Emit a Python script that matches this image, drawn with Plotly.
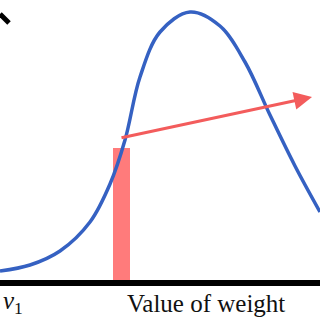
import plotly.graph_objects as go

# Curve (x position, height above the axis)
curve_x = [0, 30, 60, 90, 110, 125, 140, 160, 190, 220, 245, 270, 295, 320]
curve_y = [12, 18, 32, 61, 99, 143, 206, 251, 271, 257, 221, 168, 117, 71]

bar_x = [121.5]
bar_h = [135]

arrow_start = [120, 145]
arrow_end = [312, 186]

x_label = "Value of weight"
v_label = "<i>v</i><sub>1</sub>"

fig = go.Figure()
fig.add_trace(go.Scatter(x=curve_x, y=curve_y, mode="lines",
                         line=dict(color="#3561c2", width=3.5, shape="spline", smoothing=1.0),
                         hoverinfo="skip"))
fig.add_trace(go.Bar(x=bar_x, y=bar_h, width=17, marker=dict(color="#ff6464", line=dict(width=0)),
                     opacity=0.85))

fig.add_annotation(x=arrow_end[0], y=arrow_end[1], ax=arrow_start[0], ay=arrow_start[1],
                   xref="x", yref="y", axref="x", ayref="y", showarrow=True, text="",
                   arrowhead=2, arrowsize=1.2, arrowwidth=3, arrowcolor="#f35c5c")

# axis baseline
fig.add_shape(type="line", xref="paper", x0=0, x1=1, yref="y", y0=0, y1=0,
              line=dict(color="black", width=6))
# cropped black mark at top-left
fig.add_shape(type="line", xref="x", yref="y", x0=0, y0=269, x1=9, y1=260,
              line=dict(color="black", width=5))

fig.add_annotation(x=206, y=-20, xref="x", yref="y", text=x_label, showarrow=False,
                   font=dict(family="Liberation Serif", size=25, color="#111"))
fig.add_annotation(x=1, y=-19, xref="x", yref="y", text=v_label, showarrow=False, xanchor="left",
                   font=dict(family="Liberation Serif", size=25, color="#111"))

fig.update_layout(width=320, height=320, margin=dict(l=0, r=0, t=0, b=0),
                  plot_bgcolor="white", paper_bgcolor="white", showlegend=False, bargap=0)
fig.update_xaxes(range=[0, 320], visible=False)
fig.update_yaxes(range=[-37, 283], visible=False)
fig.write_html("out.html")
